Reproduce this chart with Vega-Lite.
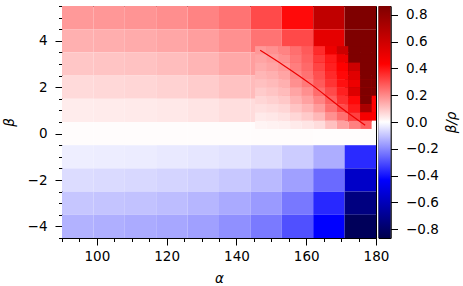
{
  "$schema": "https://vega.github.io/schema/vega-lite/v6.json",
  "background": "white",
  "padding": {"left": 1, "top": 5, "right": 3, "bottom": 3},
  "autosize": {"type": "pad"},
  "spacing": 2.5,
  "bounds": "flush",
  "datasets": {
    "coarse": [
      {"a0":90,"a1":99,"b0":4.5,"b1":5.5,"v":0.173},{"a0":99,"a1":108,"b0":4.5,"b1":5.5,"v":0.177},{"a0":108,"a1":117,"b0":4.5,"b1":5.5,"v":0.182},{"a0":117,"a1":126,"b0":4.5,"b1":5.5,"v":0.192},{"a0":126,"a1":135,"b0":4.5,"b1":5.5,"v":0.211},{"a0":135,"a1":144,"b0":4.5,"b1":5.5,"v":0.238},{"a0":144,"a1":153,"b0":4.5,"b1":5.5,"v":0.308},{"a0":153,"a1":162,"b0":4.5,"b1":5.5,"v":0.417},{"a0":162,"a1":171,"b0":4.5,"b1":5.5,"v":0.648},{"a0":171,"a1":180,"b0":4.5,"b1":5.5,"v":0.9},
      {"a0":90,"a1":99,"b0":3.5,"b1":4.5,"v":0.134},{"a0":99,"a1":108,"b0":3.5,"b1":4.5,"v":0.138},{"a0":108,"a1":117,"b0":3.5,"b1":4.5,"v":0.143},{"a0":117,"a1":126,"b0":3.5,"b1":4.5,"v":0.151},{"a0":126,"a1":135,"b0":3.5,"b1":4.5,"v":0.165},{"a0":135,"a1":144,"b0":3.5,"b1":4.5,"v":0.189},{"a0":144,"a1":153,"b0":3.5,"b1":4.5,"v":0.238},{"a0":153,"a1":162,"b0":3.5,"b1":4.5,"v":0.31},{"a0":162,"a1":171,"b0":3.5,"b1":4.5,"v":0.52},{"a0":171,"a1":180,"b0":3.5,"b1":4.5,"v":0.9},
      {"a0":90,"a1":99,"b0":2.5,"b1":3.5,"v":0.097},{"a0":99,"a1":108,"b0":2.5,"b1":3.5,"v":0.1},{"a0":108,"a1":117,"b0":2.5,"b1":3.5,"v":0.104},{"a0":117,"a1":126,"b0":2.5,"b1":3.5,"v":0.112},{"a0":126,"a1":135,"b0":2.5,"b1":3.5,"v":0.126},{"a0":135,"a1":144,"b0":2.5,"b1":3.5,"v":0.148},{"a0":144,"a1":153,"b0":2.5,"b1":3.5,"v":0.165},{"a0":153,"a1":162,"b0":2.5,"b1":3.5,"v":0.27},{"a0":162,"a1":171,"b0":2.5,"b1":3.5,"v":0.45},{"a0":171,"a1":180,"b0":2.5,"b1":3.5,"v":0.9},
      {"a0":90,"a1":99,"b0":1.5,"b1":2.5,"v":0.063},{"a0":99,"a1":108,"b0":1.5,"b1":2.5,"v":0.066},{"a0":108,"a1":117,"b0":1.5,"b1":2.5,"v":0.07},{"a0":117,"a1":126,"b0":1.5,"b1":2.5,"v":0.076},{"a0":126,"a1":135,"b0":1.5,"b1":2.5,"v":0.087},{"a0":135,"a1":144,"b0":1.5,"b1":2.5,"v":0.104},{"a0":144,"a1":153,"b0":1.5,"b1":2.5,"v":0.115},{"a0":153,"a1":162,"b0":1.5,"b1":2.5,"v":0.18},{"a0":162,"a1":171,"b0":1.5,"b1":2.5,"v":0.3},{"a0":171,"a1":180,"b0":1.5,"b1":2.5,"v":0.7},
      {"a0":90,"a1":99,"b0":0.5,"b1":1.5,"v":0.032},{"a0":99,"a1":108,"b0":0.5,"b1":1.5,"v":0.034},{"a0":108,"a1":117,"b0":0.5,"b1":1.5,"v":0.036},{"a0":117,"a1":126,"b0":0.5,"b1":1.5,"v":0.039},{"a0":126,"a1":135,"b0":0.5,"b1":1.5,"v":0.046},{"a0":135,"a1":144,"b0":0.5,"b1":1.5,"v":0.056},{"a0":144,"a1":153,"b0":0.5,"b1":1.5,"v":0.06},{"a0":153,"a1":162,"b0":0.5,"b1":1.5,"v":0.09},{"a0":162,"a1":171,"b0":0.5,"b1":1.5,"v":0.15},{"a0":171,"a1":180,"b0":0.5,"b1":1.5,"v":0.5},
      {"a0":90,"a1":99,"b0":-0.5,"b1":0.5,"v":0.005},{"a0":99,"a1":108,"b0":-0.5,"b1":0.5,"v":0.005},{"a0":108,"a1":117,"b0":-0.5,"b1":0.5,"v":0.005},{"a0":117,"a1":126,"b0":-0.5,"b1":0.5,"v":0.005},{"a0":126,"a1":135,"b0":-0.5,"b1":0.5,"v":0.005},{"a0":135,"a1":144,"b0":-0.5,"b1":0.5,"v":0.005},{"a0":144,"a1":153,"b0":-0.5,"b1":0.5,"v":0.005},{"a0":153,"a1":162,"b0":-0.5,"b1":0.5,"v":0.005},{"a0":162,"a1":171,"b0":-0.5,"b1":0.5,"v":0.004},{"a0":171,"a1":180,"b0":-0.5,"b1":0.5,"v":0.003},
      {"a0":90,"a1":99,"b0":-1.5,"b1":-0.5,"v":-0.029},{"a0":99,"a1":108,"b0":-1.5,"b1":-0.5,"v":-0.031},{"a0":108,"a1":117,"b0":-1.5,"b1":-0.5,"v":-0.032},{"a0":117,"a1":126,"b0":-1.5,"b1":-0.5,"v":-0.037},{"a0":126,"a1":135,"b0":-1.5,"b1":-0.5,"v":-0.043},{"a0":135,"a1":144,"b0":-1.5,"b1":-0.5,"v":-0.049},{"a0":144,"a1":153,"b0":-1.5,"b1":-0.5,"v":-0.063},{"a0":153,"a1":162,"b0":-1.5,"b1":-0.5,"v":-0.087},{"a0":162,"a1":171,"b0":-1.5,"b1":-0.5,"v":-0.139},{"a0":171,"a1":180,"b0":-1.5,"b1":-0.5,"v":-0.362},
      {"a0":90,"a1":99,"b0":-2.5,"b1":-1.5,"v":-0.06},{"a0":99,"a1":108,"b0":-2.5,"b1":-1.5,"v":-0.063},{"a0":108,"a1":117,"b0":-2.5,"b1":-1.5,"v":-0.066},{"a0":117,"a1":126,"b0":-2.5,"b1":-1.5,"v":-0.073},{"a0":126,"a1":135,"b0":-2.5,"b1":-1.5,"v":-0.08},{"a0":135,"a1":144,"b0":-2.5,"b1":-1.5,"v":-0.094},{"a0":144,"a1":153,"b0":-2.5,"b1":-1.5,"v":-0.117},{"a0":153,"a1":162,"b0":-2.5,"b1":-1.5,"v":-0.162},{"a0":162,"a1":171,"b0":-2.5,"b1":-1.5,"v":-0.253},{"a0":171,"a1":180,"b0":-2.5,"b1":-1.5,"v":-0.567},
      {"a0":90,"a1":99,"b0":-3.5,"b1":-2.5,"v":-0.097},{"a0":99,"a1":108,"b0":-3.5,"b1":-2.5,"v":-0.1},{"a0":108,"a1":117,"b0":-3.5,"b1":-2.5,"v":-0.104},{"a0":117,"a1":126,"b0":-3.5,"b1":-2.5,"v":-0.112},{"a0":126,"a1":135,"b0":-3.5,"b1":-2.5,"v":-0.124},{"a0":135,"a1":144,"b0":-3.5,"b1":-2.5,"v":-0.144},{"a0":144,"a1":153,"b0":-3.5,"b1":-2.5,"v":-0.172},{"a0":153,"a1":162,"b0":-3.5,"b1":-2.5,"v":-0.229},{"a0":162,"a1":171,"b0":-3.5,"b1":-2.5,"v":-0.366},{"a0":171,"a1":180,"b0":-3.5,"b1":-2.5,"v":-0.742},
      {"a0":90,"a1":99,"b0":-4.5,"b1":-3.5,"v":-0.131},{"a0":99,"a1":108,"b0":-4.5,"b1":-3.5,"v":-0.136},{"a0":108,"a1":117,"b0":-4.5,"b1":-3.5,"v":-0.143},{"a0":117,"a1":126,"b0":-4.5,"b1":-3.5,"v":-0.15},{"a0":126,"a1":135,"b0":-4.5,"b1":-3.5,"v":-0.162},{"a0":135,"a1":144,"b0":-4.5,"b1":-3.5,"v":-0.189},{"a0":144,"a1":153,"b0":-4.5,"b1":-3.5,"v":-0.226},{"a0":153,"a1":162,"b0":-4.5,"b1":-3.5,"v":-0.298},{"a0":162,"a1":171,"b0":-4.5,"b1":-3.5,"v":-0.434},{"a0":171,"a1":180,"b0":-4.5,"b1":-3.5,"v":-0.834}
    ],
    "fine": [
      {"a0":145.34,"a1":148.69,"b0":3.41,"b1":3.77,"v":0.175},{"a0":148.69,"a1":152.03,"b0":3.41,"b1":3.77,"v":0.189},{"a0":152.03,"a1":155.38,"b0":3.41,"b1":3.77,"v":0.21},{"a0":155.38,"a1":158.72,"b0":3.41,"b1":3.77,"v":0.245},{"a0":158.72,"a1":162.07,"b0":3.41,"b1":3.77,"v":0.28},{"a0":162.07,"a1":165.41,"b0":3.41,"b1":3.77,"v":0.36},{"a0":165.41,"a1":168.76,"b0":3.41,"b1":3.77,"v":0.49},{"a0":168.76,"a1":172.1,"b0":3.41,"b1":3.77,"v":0.607},{"a0":172.1,"a1":175.45,"b0":3.41,"b1":3.77,"v":0.9},{"a0":175.45,"a1":178.79,"b0":3.41,"b1":3.77,"v":0.9},{"a0":178.79,"a1":180,"b0":3.41,"b1":3.77,"v":0.9},
      {"a0":145.34,"a1":148.69,"b0":3.06,"b1":3.41,"v":0.155},{"a0":148.69,"a1":152.03,"b0":3.06,"b1":3.41,"v":0.17},{"a0":152.03,"a1":155.38,"b0":3.06,"b1":3.41,"v":0.19},{"a0":155.38,"a1":158.72,"b0":3.06,"b1":3.41,"v":0.232},{"a0":158.72,"a1":162.07,"b0":3.06,"b1":3.41,"v":0.268},{"a0":162.07,"a1":165.41,"b0":3.06,"b1":3.41,"v":0.335},{"a0":165.41,"a1":168.76,"b0":3.06,"b1":3.41,"v":0.39},{"a0":168.76,"a1":172.1,"b0":3.06,"b1":3.41,"v":0.49},{"a0":172.1,"a1":175.45,"b0":3.06,"b1":3.41,"v":0.9},{"a0":175.45,"a1":178.79,"b0":3.06,"b1":3.41,"v":0.9},{"a0":178.79,"a1":180,"b0":3.06,"b1":3.41,"v":0.9},
      {"a0":145.34,"a1":148.69,"b0":2.7,"b1":3.06,"v":0.141},{"a0":148.69,"a1":152.03,"b0":2.7,"b1":3.06,"v":0.155},{"a0":152.03,"a1":155.38,"b0":2.7,"b1":3.06,"v":0.172},{"a0":155.38,"a1":158.72,"b0":2.7,"b1":3.06,"v":0.22},{"a0":158.72,"a1":162.07,"b0":2.7,"b1":3.06,"v":0.255},{"a0":162.07,"a1":165.41,"b0":2.7,"b1":3.06,"v":0.318},{"a0":165.41,"a1":168.76,"b0":2.7,"b1":3.06,"v":0.379},{"a0":168.76,"a1":172.1,"b0":2.7,"b1":3.06,"v":0.433},{"a0":172.1,"a1":175.45,"b0":2.7,"b1":3.06,"v":0.607},{"a0":175.45,"a1":178.79,"b0":2.7,"b1":3.06,"v":0.9},{"a0":178.79,"a1":180,"b0":2.7,"b1":3.06,"v":0.9},
      {"a0":145.34,"a1":148.69,"b0":2.34,"b1":2.7,"v":0.124},{"a0":148.69,"a1":152.03,"b0":2.34,"b1":2.7,"v":0.134},{"a0":152.03,"a1":155.38,"b0":2.34,"b1":2.7,"v":0.155},{"a0":155.38,"a1":158.72,"b0":2.34,"b1":2.7,"v":0.205},{"a0":158.72,"a1":162.07,"b0":2.34,"b1":2.7,"v":0.24},{"a0":162.07,"a1":165.41,"b0":2.34,"b1":2.7,"v":0.298},{"a0":165.41,"a1":168.76,"b0":2.34,"b1":2.7,"v":0.362},{"a0":168.76,"a1":172.1,"b0":2.34,"b1":2.7,"v":0.42},{"a0":172.1,"a1":175.45,"b0":2.34,"b1":2.7,"v":0.537},{"a0":175.45,"a1":178.79,"b0":2.34,"b1":2.7,"v":0.9},{"a0":178.79,"a1":180,"b0":2.34,"b1":2.7,"v":0.9},
      {"a0":145.34,"a1":148.69,"b0":1.99,"b1":2.34,"v":0.107},{"a0":148.69,"a1":152.03,"b0":1.99,"b1":2.34,"v":0.118},{"a0":152.03,"a1":155.38,"b0":1.99,"b1":2.34,"v":0.134},{"a0":155.38,"a1":158.72,"b0":1.99,"b1":2.34,"v":0.19},{"a0":158.72,"a1":162.07,"b0":1.99,"b1":2.34,"v":0.226},{"a0":162.07,"a1":165.41,"b0":1.99,"b1":2.34,"v":0.281},{"a0":165.41,"a1":168.76,"b0":1.99,"b1":2.34,"v":0.345},{"a0":168.76,"a1":172.1,"b0":1.99,"b1":2.34,"v":0.407},{"a0":172.1,"a1":175.45,"b0":1.99,"b1":2.34,"v":0.49},{"a0":175.45,"a1":178.79,"b0":1.99,"b1":2.34,"v":0.9},{"a0":178.79,"a1":180,"b0":1.99,"b1":2.34,"v":0.9},
      {"a0":145.34,"a1":148.69,"b0":1.63,"b1":1.99,"v":0.088},{"a0":148.69,"a1":152.03,"b0":1.63,"b1":1.99,"v":0.1},{"a0":152.03,"a1":155.38,"b0":1.63,"b1":1.99,"v":0.115},{"a0":155.38,"a1":158.72,"b0":1.63,"b1":1.99,"v":0.155},{"a0":158.72,"a1":162.07,"b0":1.63,"b1":1.99,"v":0.19},{"a0":162.07,"a1":165.41,"b0":1.63,"b1":1.99,"v":0.25},{"a0":165.41,"a1":168.76,"b0":1.63,"b1":1.99,"v":0.308},{"a0":168.76,"a1":172.1,"b0":1.63,"b1":1.99,"v":0.379},{"a0":172.1,"a1":175.45,"b0":1.63,"b1":1.99,"v":0.547},{"a0":175.45,"a1":178.79,"b0":1.63,"b1":1.99,"v":0.88},{"a0":178.79,"a1":180,"b0":1.63,"b1":1.99,"v":0.9},
      {"a0":145.34,"a1":148.69,"b0":1.27,"b1":1.63,"v":0.07},{"a0":148.69,"a1":152.03,"b0":1.27,"b1":1.63,"v":0.08},{"a0":152.03,"a1":155.38,"b0":1.27,"b1":1.63,"v":0.094},{"a0":155.38,"a1":158.72,"b0":1.27,"b1":1.63,"v":0.13},{"a0":158.72,"a1":162.07,"b0":1.27,"b1":1.63,"v":0.16},{"a0":162.07,"a1":165.41,"b0":1.27,"b1":1.63,"v":0.21},{"a0":165.41,"a1":168.76,"b0":1.27,"b1":1.63,"v":0.27},{"a0":168.76,"a1":172.1,"b0":1.27,"b1":1.63,"v":0.352},{"a0":172.1,"a1":175.45,"b0":1.27,"b1":1.63,"v":0.42},{"a0":175.45,"a1":178.79,"b0":1.27,"b1":1.63,"v":0.866},{"a0":178.79,"a1":180,"b0":1.27,"b1":1.63,"v":0.43},
      {"a0":145.34,"a1":148.69,"b0":0.91,"b1":1.27,"v":0.053},{"a0":148.69,"a1":152.03,"b0":0.91,"b1":1.27,"v":0.06},{"a0":152.03,"a1":155.38,"b0":0.91,"b1":1.27,"v":0.07},{"a0":155.38,"a1":158.72,"b0":0.91,"b1":1.27,"v":0.1},{"a0":158.72,"a1":162.07,"b0":0.91,"b1":1.27,"v":0.125},{"a0":162.07,"a1":165.41,"b0":0.91,"b1":1.27,"v":0.17},{"a0":165.41,"a1":168.76,"b0":0.91,"b1":1.27,"v":0.243},{"a0":168.76,"a1":172.1,"b0":0.91,"b1":1.27,"v":0.308},{"a0":172.1,"a1":175.45,"b0":0.91,"b1":1.27,"v":0.389},{"a0":175.45,"a1":178.79,"b0":0.91,"b1":1.27,"v":0.72},{"a0":178.79,"a1":180,"b0":0.91,"b1":1.27,"v":0.43},
      {"a0":145.34,"a1":148.69,"b0":0.56,"b1":0.91,"v":0.036},{"a0":148.69,"a1":152.03,"b0":0.56,"b1":0.91,"v":0.04},{"a0":152.03,"a1":155.38,"b0":0.56,"b1":0.91,"v":0.05},{"a0":155.38,"a1":158.72,"b0":0.56,"b1":0.91,"v":0.07},{"a0":158.72,"a1":162.07,"b0":0.56,"b1":0.91,"v":0.09},{"a0":162.07,"a1":165.41,"b0":0.56,"b1":0.91,"v":0.12},{"a0":165.41,"a1":168.76,"b0":0.56,"b1":0.91,"v":0.189},{"a0":168.76,"a1":172.1,"b0":0.56,"b1":0.91,"v":0.243},{"a0":172.1,"a1":175.45,"b0":0.56,"b1":0.91,"v":0.325},{"a0":175.45,"a1":178.79,"b0":0.56,"b1":0.91,"v":0.46},{"a0":178.79,"a1":180,"b0":0.56,"b1":0.91,"v":0.44},
      {"a0":145.34,"a1":148.69,"b0":0.2,"b1":0.56,"v":0.019},{"a0":148.69,"a1":152.03,"b0":0.2,"b1":0.56,"v":0.022},{"a0":152.03,"a1":155.38,"b0":0.2,"b1":0.56,"v":0.026},{"a0":155.38,"a1":158.72,"b0":0.2,"b1":0.56,"v":0.035},{"a0":158.72,"a1":162.07,"b0":0.2,"b1":0.56,"v":0.045},{"a0":162.07,"a1":165.41,"b0":0.2,"b1":0.56,"v":0.06},{"a0":165.41,"a1":168.76,"b0":0.2,"b1":0.56,"v":0.107},{"a0":168.76,"a1":172.1,"b0":0.2,"b1":0.56,"v":0.162},{"a0":172.1,"a1":175.45,"b0":0.2,"b1":0.56,"v":0.216},{"a0":175.45,"a1":178.79,"b0":0.2,"b1":0.56,"v":0.27},{"a0":178.79,"a1":180,"b0":0.2,"b1":0.56,"v":0.0}
    ],
    "curve": [
      {"a":146.8,"b":3.59},{"a":153.45,"b":2.95},{"a":161.6,"b":2.1},{"a":169.7,"b":1.15},{"a":176.9,"b":0.36}
    ],
    "bar": [{"lo":-0.867,"hi":0.867}]
  },
  "hconcat": [
    {
      "width": 314,
      "height": 232,
      "resolve": {"axis": {"x": "independent", "y": "independent"}},
      "layer": [
        {
          "data": {"name": "coarse"},
          "mark": {"type": "rect"},
          "encoding": {
            "x": {"field": "a0", "type": "quantitative", "title": "α",
              "scale": {"domain": [90, 180], "nice": false, "zero": false},
              "axis": {"orient": "bottom", "values": [100, 120, 140, 160, 180], "format": "d",
                "tickSize": 7, "labelPadding": 4, "titlePadding": 9, "labelFlush": false, "labelOverlap": false}
            },
            "x2": {"field": "a1"},
            "y": {"field": "b0", "type": "quantitative", "title": "β",
              "scale": {"domain": [-4.5, 5.5], "nice": false, "zero": false},
              "axis": {"orient": "left", "values": [-4, -2, 0, 2, 4], "format": "d",
                "tickSize": 7, "labelPadding": 8, "titlePadding": 11, "labelFlush": false, "labelOverlap": false}
            },
            "y2": {"field": "b1"},
            "color": {"field": "v", "type": "quantitative", "legend": null,
              "scale": {"domain": [-0.867, -0.4335, 0, 0.4335, 0.867], "range": ["#00004c", "#0000ff", "#ffffff", "#ff0000", "#7f0000"], "interpolate": "rgb", "clamp": true}
            }
          }
        },
        {
          "data": {"name": "fine"},
          "mark": {"type": "rect"},
          "encoding": {
            "x": {"field": "a0", "type": "quantitative",
              "axis": {"orient": "bottom", "values": [90,95,105,110,115,125,130,135,145,150,155,165,170,175], "labels": false, "domain": false, "tickSize": 3.5, "title": null}},
            "x2": {"field": "a1"},
            "y": {"field": "b0", "type": "quantitative",
              "axis": {"orient": "left", "values": [-4.5,-3.5,-3,-2.5,-1.5,-1,-0.5,0.5,1,1.5,2.5,3,3.5,4.5,5,5.5], "labels": false, "domain": false, "tickSize": 3.5, "title": null}},
            "y2": {"field": "b1"},
            "color": {"field": "v", "type": "quantitative", "legend": null}
          }
        },
        {
          "data": {"name": "curve"},
          "mark": {"type": "line", "color": "#ee0000", "strokeWidth": 1.2, "interpolate": "monotone"},
          "encoding": {
            "x": {"field": "a", "type": "quantitative", "axis": null},
            "y": {"field": "b", "type": "quantitative", "axis": null}
          }
        }
      ]
    },
    {
      "width": 12,
      "height": 232,
      "data": {"name": "bar"},
      "mark": {"type": "rect", "fill": {"gradient": "linear", "x1": 0, "y1": 1, "x2": 0, "y2": 0,
        "stops": [{"offset": 0, "color": "#00004c"}, {"offset": 0.25, "color": "#0000ff"}, {"offset": 0.5, "color": "#ffffff"}, {"offset": 0.75, "color": "#ff0000"}, {"offset": 1, "color": "#7f0000"}]}},
      "encoding": {
        "x": {"datum": 0, "type": "quantitative", "scale": {"domain": [0, 1], "nice": false}, "axis": null},
        "x2": {"datum": 1},
        "y": {"field": "lo", "type": "quantitative", "title": "β/ρ",
          "scale": {"domain": [-0.867, 0.867], "nice": false, "zero": false},
          "axis": {"orient": "right", "values": [-0.8,-0.6,-0.4,-0.2,0,0.2,0.4,0.6,0.8], "format": ".1f",
            "tickSize": 7, "labelPadding": 8, "titleAngle": 270, "titleBaseline": "top", "titlePadding": 6, "labelFlush": false, "labelOverlap": false}
        },
        "y2": {"field": "hi"}
      }
    }
  ],
  "config": {
    "view": {"stroke": "#000000", "strokeWidth": 1},
    "axis": {
      "grid": false, "domainColor": "#000000", "domainWidth": 1, "tickColor": "#000000", "tickWidth": 1,
      "labelColor": "#000000", "labelFont": "DejaVu Sans", "labelFontSize": 13.5,
      "titleColor": "#000000", "titleFont": "DejaVu Sans", "titleFontSize": 13.5, "titleFontWeight": "normal", "titleFontStyle": "italic"
    }
  }
}
